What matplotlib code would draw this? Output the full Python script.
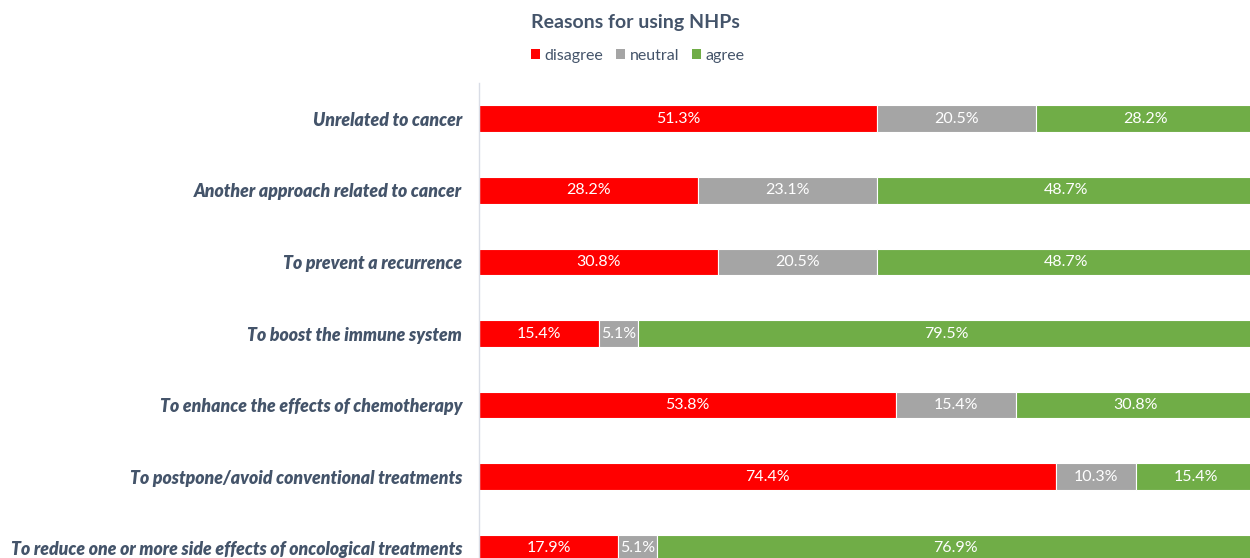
import matplotlib
matplotlib.use("Agg")
import matplotlib.pyplot as plt
from matplotlib.patches import Patch

categories = [
    "Unrelated to cancer",
    "Another approach related to cancer",
    "To prevent a recurrence",
    "To boost the immune system",
    "To enhance the effects of chemotherapy",
    "To postpone/avoid conventional treatments",
    "To reduce one or more side effects of oncological treatments",
]
disagree = [51.3, 28.2, 30.8, 15.4, 53.8, 74.4, 17.9]
neutral = [20.5, 23.1, 20.5, 5.1, 15.4, 10.3, 5.1]
agree = [28.2, 48.7, 48.7, 79.5, 30.8, 15.4, 76.9]
series_names = ["disagree", "neutral", "agree"]
colors = ["#FF0000", "#A5A5A5", "#70AD47"]

plt.rcParams['font.family'] = ['Lato', 'DejaVu Sans']
textc = "#44546A"

fig = plt.figure(figsize=(12.5, 5.58), dpi=100)
ax = fig.add_axes([479/1250, 1-584/558, 776/1250, (584-83)/558])

y = list(range(len(categories)))
left = [0.0]*len(categories)
for vals, name, col in zip([disagree, neutral, agree], series_names, colors):
    ax.barh(y, vals, left=left, height=0.375, color=col, edgecolor="white", linewidth=0.8, label=name)
    for yi, l, v in zip(y, left, vals):
        ax.text(l + v/2, yi, f"{v:.1f}%", ha="center", va="center", color="white", fontsize=11.5)
    left = [a+b for a, b in zip(left, vals)]

ax.set_xlim(0, 100)
ax.set_ylim(len(categories)-0.5, -0.5)
ax.set_yticks(y)
ax.set_yticklabels(categories, fontsize=12.7, fontweight="heavy", fontstyle="italic", color=textc)
ax.tick_params(axis="y", length=0, pad=12)
ax.set_xticks([])
for s in ["top", "right", "bottom"]:
    ax.spines[s].set_visible(False)
ax.spines["left"].set_color("#D9DDE6")
ax.spines["left"].set_linewidth(1.0)

fig.text(0.508, 0.96, "Reasons for using NHPs", ha="center", va="center", fontsize=14, fontweight="bold", color=textc)
handles = [Patch(facecolor=c, label=n) for c, n in zip(colors, series_names)]
leg = fig.legend(handles=handles, loc="center", bbox_to_anchor=(0.51, 0.9), ncol=3, frameon=False,
                 fontsize=11.5, handlelength=0.6, handleheight=0.6, handletextpad=0.25, columnspacing=0.8)
for t in leg.get_texts():
    t.set_color(textc)

fig.savefig("out.png", dpi=100)
